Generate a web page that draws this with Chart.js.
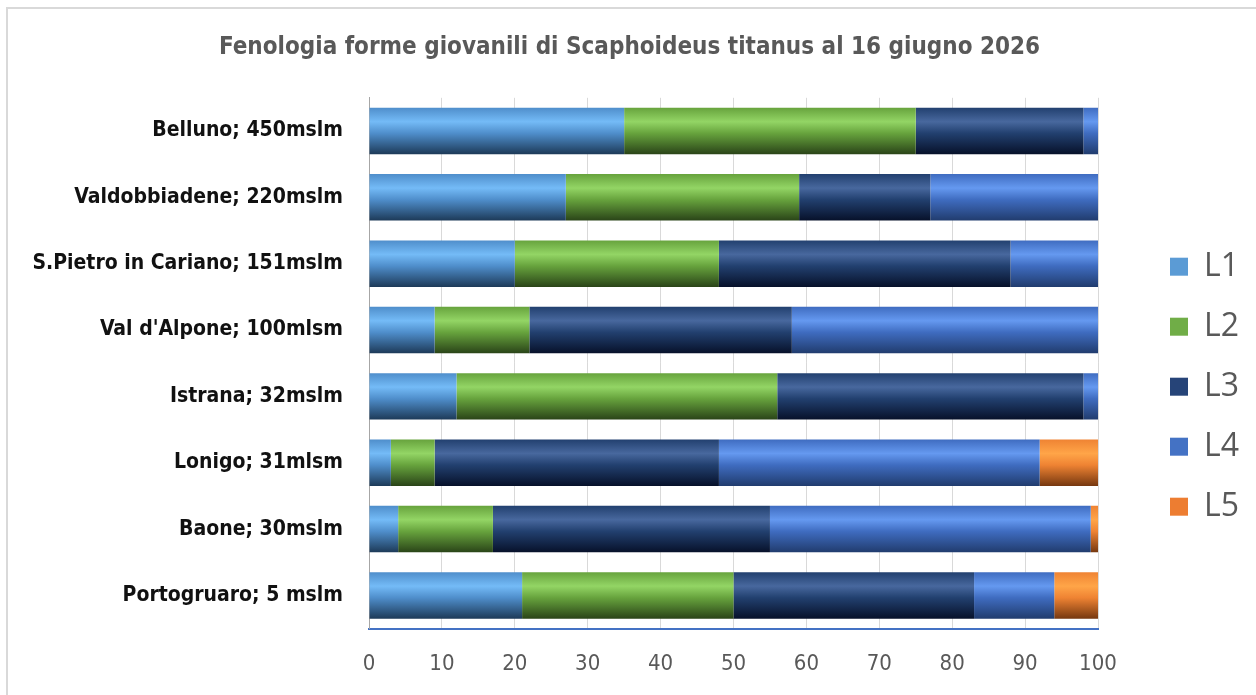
<!DOCTYPE html>
<html>
<head>
<meta charset="utf-8">
<script src="https://cdn.jsdelivr.net/npm/chart.js@4.4.1/dist/chart.umd.min.js"></script>
<style>
  html, body { margin: 0; padding: 0; background: #fff; }
  #wrap { width: 1256px; height: 695px; }
</style>
</head>
<body>
<div id="wrap"><canvas id="phenoChart" width="1256" height="695"></canvas></div>
<script>
// Sites (top to bottom) and share of each juvenile stage, in percent
const sites = ['Belluno; 450mslm', 'Valdobbiadene; 220mslm', 'S.Pietro in Cariano; 151mslm',
  "Val d'Alpone; 100mlsm", 'Istrana; 32mslm', 'Lonigo; 31mlsm', 'Baone; 30mslm', 'Portogruaro; 5 mslm'];
const stages = ['L1', 'L2', 'L3', 'L4', 'L5'];
const l1 = [35, 27, 20, 9, 12, 3, 4, 21];
const l2 = [40, 32, 28, 13, 44, 6, 13, 29];
const l3 = [23, 18, 40, 36, 42, 39, 38, 33];
const l4 = [2, 23, 12, 42, 2, 44, 44, 11];
const l5 = [0, 0, 0, 0, 0, 8, 1, 6];
const xTicks = [0, 10, 20, 30, 40, 50, 60, 70, 80, 90, 100];

// flat colour (legend) + top / highlight / shadow for the cylinder look
const palette = [
  { base: '#5b9bd5', top: '#4f8ecb', light: '#74bbf7', dark: '#1d3a58' },
  { base: '#70ad47', top: '#67a33d', light: '#93d565', dark: '#2a4418' },
  { base: '#264478', top: '#22406f', light: '#48689e', dark: '#07112a' },
  { base: '#4472c4', top: '#3f6cc0', light: '#6599f0', dark: '#213c6e' },
  { base: '#ed7d31', top: '#ef8333', light: '#ffa548', dark: '#763810' }
];

const FONT = "'Liberation Sans Narrow', 'DejaVu Sans Condensed', 'Liberation Sans', sans-serif";

function shade(p) {
  return function (ctx) {
    if (ctx.type !== 'data') return p.base;
    const chart = ctx.chart;
    if (!chart.chartArea) return p.base;
    const y = chart.scales.y;
    const c = y.getPixelForValue(ctx.dataIndex);
    const h = (y.height / sites.length) * 0.7;
    const g = chart.ctx.createLinearGradient(0, c - h / 2, 0, c + h / 2);
    g.addColorStop(0, p.top);
    g.addColorStop(0.3, p.light);
    g.addColorStop(0.55, p.top);
    g.addColorStop(1, p.dark);
    return g;
  };
}

const series = [l1, l2, l3, l4, l5];
const datasets = stages.map((name, i) => ({
  label: name,
  data: series[i],
  backgroundColor: shade(palette[i]),
  borderWidth: 0,
  barPercentage: 0.7,
  categoryPercentage: 1
}));

// light frame round the whole picture
const frame = {
  id: 'frame',
  beforeDraw(chart) {
    const c = chart.ctx;
    c.save();
    c.fillStyle = '#fff';
    c.fillRect(0, 0, chart.width, chart.height);
    c.strokeStyle = '#d9d9d9';
    c.lineWidth = 2;
    c.strokeRect(7, 8, chart.width, chart.height);
    c.restore();
  }
};

new Chart(document.getElementById('phenoChart'), {
  type: 'bar',
  data: { labels: sites, datasets: datasets },
  plugins: [frame],
  options: {
    indexAxis: 'y',
    responsive: false,
    animation: false,
    layout: { padding: { left: 10, right: 7, top: 6, bottom: -4 } },
    scales: {
      x: {
        stacked: true,
        min: 0,
        max: 100,
        afterBuildTicks(scale) { scale.ticks = xTicks.map(v => ({ value: v })); },
        grid: { color: '#d9d9d9', lineWidth: 1, drawTicks: false },
        border: { color: '#4472c4', width: 2 },
        ticks: { color: '#595959', padding: 22, font: { family: FONT, size: 22 } }
      },
      y: {
        stacked: true,
        grid: { display: false },
        border: { color: '#a6a6a6', width: 1 },
        ticks: { color: '#111', padding: 18, font: { family: FONT, size: 21, weight: 'bold' } },
        afterFit(scale) { scale.width = 359; }
      },
      gap: {
        type: 'linear',
        position: 'right',
        display: true,
        grid: { display: false },
        border: { display: false },
        ticks: { display: false },
        afterFit(scale) { scale.width = 44; }
      }
    },
    plugins: {
      title: {
        display: true,
        text: 'Fenologia forme giovanili di Scaphoideus titanus al 16 giugno 2026',
        color: '#595959',
        font: { family: FONT, size: 24, weight: 'bold' },
        padding: { top: 27, bottom: 36 }
      },
      legend: {
        position: 'right',
        title: { display: true, text: ' ', font: { size: 12 }, padding: { top: 27, bottom: 27 } },
        labels: {
          color: '#595959',
          boxWidth: 18,
          boxHeight: 18,
          padding: 28,
          font: { family: "'Open Sans', sans-serif", size: 32 },
          generateLabels(chart) {
            return chart.data.datasets.map((d, i) => ({
              text: d.label,
              fillStyle: palette[i].base,
              strokeStyle: palette[i].base,
              lineWidth: 0,
              fontColor: '#595959',
              datasetIndex: i
            }));
          }
        }
      },
      tooltip: { enabled: false }
    }
  }
});
</script>
</body>
</html>
